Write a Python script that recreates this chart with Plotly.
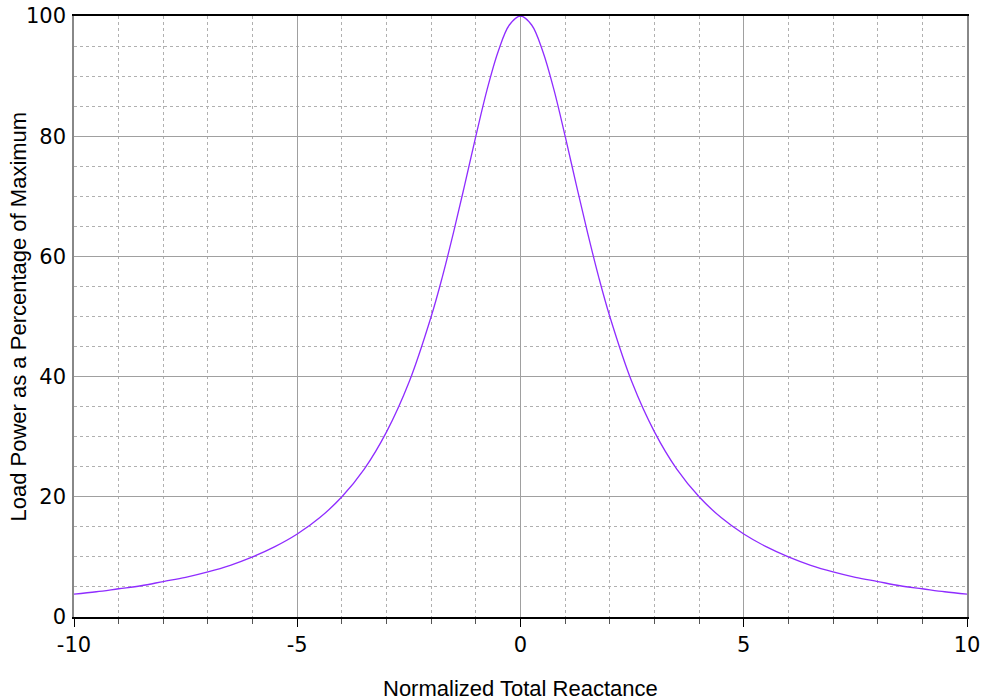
import plotly.graph_objects as go

# Values
reactance = [
    -10, -9.5, -9, -8.5, -8, -7.5, -7, -6.5, -6, -5.5, -5, -4.5, -4, -3.5, -3,
    -2.5, -2, -1.75, -1.5, -1.25, -1, -0.75, -0.5, -0.25, 0, 0.25, 0.5, 0.75,
    1, 1.25, 1.5, 1.75, 2, 2.5, 3, 3.5, 4, 4.5, 5, 5.5, 6, 6.5, 7, 7.5, 8,
    8.5, 9, 9.5, 10,
]
power_pct = [
    3.8, 4.2, 4.7, 5.2, 5.9, 6.6, 7.5, 8.6, 10.0, 11.7, 13.8, 16.5, 20.0, 24.6,
    30.8, 39.0, 50.0, 56.6, 64.0, 71.9, 80.0, 87.7, 94.1, 98.5, 100.0, 98.5,
    94.1, 87.7, 80.0, 71.9, 64.0, 56.6, 50.0, 39.0, 30.8, 24.6, 20.0, 16.5,
    13.8, 11.7, 10.0, 8.6, 7.5, 6.6, 5.9, 5.2, 4.7, 4.2, 3.8,
]
x_ticks = [-10, -5, 0, 5, 10]
x_labels = ["-10", "-5", "0", "5", "10"]
y_ticks = [0, 20, 40, 60, 80, 100]

fig = go.Figure()
fig.add_trace(
    go.Scatter(
        x=reactance,
        y=power_pct,
        mode="lines",
        line=dict(color="#8f2cff", width=1.3, shape="spline", smoothing=1.0),
        showlegend=False,
    )
)

title_font = dict(family="Liberation Sans", size=22, color="black")

fig.update_layout(
    width=982,
    height=700,
    paper_bgcolor="white",
    plot_bgcolor="white",
    margin=dict(l=74, r=15, t=16, b=83, autoexpand=False),
    font=dict(family="DejaVu Sans", size=21, color="black"),
    xaxis=dict(
        range=[-10, 10],
        tickvals=x_ticks,
        ticktext=x_labels,
        ticks="outside",
        ticklen=8,
        tickcolor="black",
        showline=True,
        linecolor="black",
        linewidth=1.5,
        mirror=True,
        showgrid=True,
        gridcolor="#a0a0a0",
        gridwidth=1,
        zeroline=False,
        automargin=False,
        minor=dict(
            dtick=1,
            ticks="outside",
            ticklen=5,
            tickcolor="#555555",
            showgrid=True,
            gridcolor="#b0b0b0",
            griddash="dot",
        ),
    ),
    yaxis=dict(
        range=[0, 100],
        tickvals=y_ticks,
        ticks="",
        ticklabelstandoff=2,
        showline=True,
        linecolor="#888888",
        linewidth=1.5,
        mirror=True,
        showgrid=True,
        gridcolor="#a0a0a0",
        gridwidth=1,
        zeroline=False,
        automargin=False,
        minor=dict(
            dtick=5,
            showgrid=True,
            gridcolor="#b0b0b0",
            griddash="dot",
        ),
    ),
    annotations=[
        dict(
            text="Normalized Total Reactance",
            xref="paper", yref="paper", x=0.5, y=0,
            xanchor="center", yanchor="middle", yshift=-71,
            showarrow=False, font=title_font,
        ),
        dict(
            text="Load Power as a Percentage of Maximum",
            xref="paper", yref="paper", x=0, y=0.5,
            xanchor="center", yanchor="middle", xshift=-56,
            textangle=-90, showarrow=False, font=title_font,
        ),
    ],
)

# drop the default 8px body margin so the figure fills the window exactly
fig.write_html(
    "out.html",
    config={"displayModeBar": False},
    post_script="document.body.style.margin='0';document.body.style.overflow='hidden';",
)
